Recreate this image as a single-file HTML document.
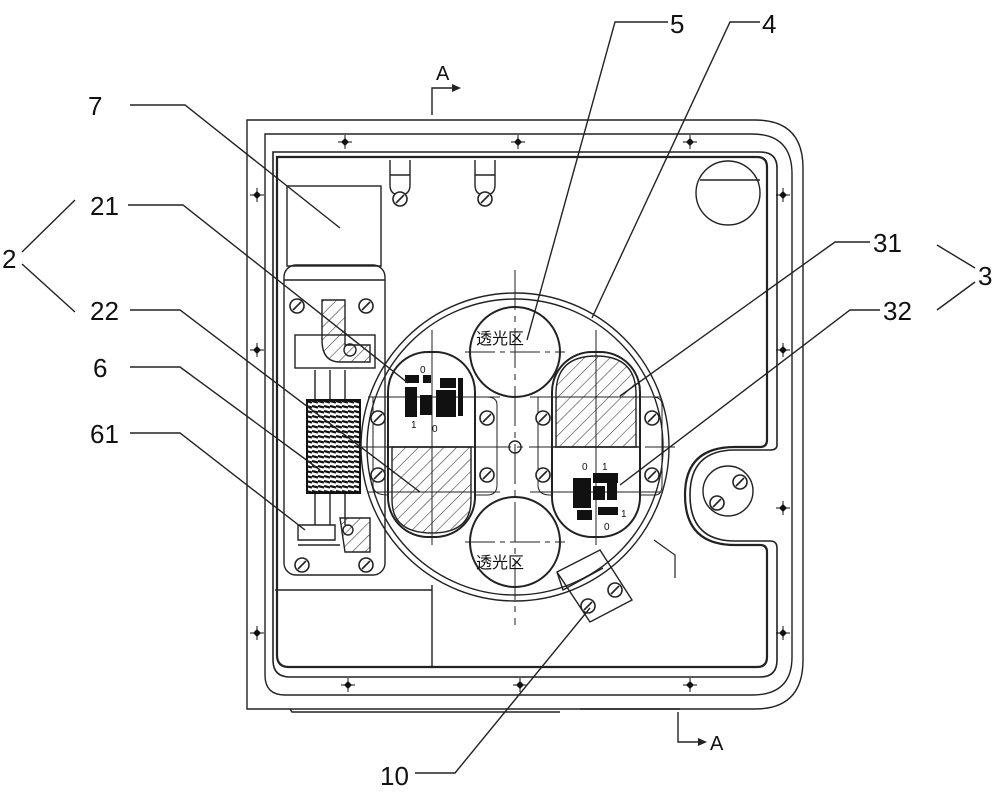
<!DOCTYPE html>
<html><head><meta charset="utf-8"><style>html,body{margin:0;padding:0;background:#fff}svg{display:block}</style></head>
<body>
<svg width="1000" height="801" viewBox="0 0 1000 801" xmlns="http://www.w3.org/2000/svg" font-family="'Liberation Sans','Noto Sans CJK SC',sans-serif">
<defs>
<pattern id="h" width="9" height="9" patternUnits="userSpaceOnUse" patternTransform="rotate(45)"><line x1="0" y1="0" x2="0" y2="9" stroke="#333" stroke-width="1.1"/></pattern>
<pattern id="coil" width="6" height="5" patternUnits="userSpaceOnUse"><rect width="6" height="5" fill="#fff"/><line x1="0" y1="1" x2="6" y2="2.5" stroke="#111" stroke-width="2.2"/></pattern>
<g id="sc"><circle r="7" fill="#fff" stroke="#222" stroke-width="1.6"/><line x1="-4" y1="4" x2="4" y2="-4" stroke="#222" stroke-width="1.6"/></g>
<g id="mk"><line x1="-7" y1="0" x2="7" y2="0" stroke="#111" stroke-width="1"/><line x1="0" y1="-7" x2="0" y2="7" stroke="#111" stroke-width="1"/><path d="M-4 0 L0 -4 L4 0 L0 4Z" fill="#111"/></g>
</defs>
<g fill="none" stroke="#222" stroke-width="1.4">
<!-- housing -->
<path d="M247 120 H755 Q803 120 803 168 V660 Q803 709 755 709 H247 Z"/>
<path d="M290 709 L292 712 H560 M580 709 H680"/>
<path d="M265 134 H752 Q792 134 792 174 V657 Q792 695 752 695 H285 Q265 695 265 675 Z"/>
<path d="M273 152 H760 Q777 152 777 168 V445 Q777 450 770 450 H735 Q690 450 690 495 Q690 541 735 541 H770 Q777 541 777 548 V660 Q777 677 760 677 H290 Q273 677 273 660 Z" stroke-width="1.6"/>
<path d="M277 157 H757 Q767 157 767 167 V440 Q767 447 760 447 H735 Q685 447 685 495 Q685 545 735 545 H760 Q767 545 767 552 V657 Q767 667 757 667 H289 Q277 667 277 655 Z" stroke-width="2.2"/>
<circle cx="728" cy="193" r="32"/><line x1="700" y1="180" x2="760" y2="180"/>
<circle cx="728" cy="491" r="25"/>
<use href="#sc" x="740" y="482"/><use href="#sc" x="717" y="503"/>
<!-- partitions -->
<path d="M275 590 H432 M432 585 V667"/>
<!-- tabs top -->
<path d="M390 160 V185 Q390 195 400 195 Q410 195 410 185 V160 M390 175 H410"/><use href="#sc" x="400" y="199"/>
<path d="M475 160 V185 Q475 195 485 195 Q495 195 495 185 V160 M475 175 H495"/><use href="#sc" x="485" y="199"/>
<!-- left mechanism -->
<rect x="287" y="186" width="94" height="80"/>
<rect x="284" y="265" width="101" height="310" rx="12"/>
<line x1="284" y1="280" x2="385" y2="280"/>
<rect x="295" y="335" width="80" height="33"/>
<path d="M315 370 V400 M330 370 V400 M345 370 V400 M315 493 V525 M330 493 V525 M345 493 V525"/>
<rect x="307" y="400" width="53" height="93" fill="url(#coil)" stroke="#111" stroke-width="2"/>
<path d="M322 300 H345 V345 H370 V362 H340 Q322 362 322 340 Z" fill="url(#h)"/>
<path d="M340 518 H370 V552 H345 Z" fill="url(#h)"/>
<path d="M298 525 H335 V540 H298 Z M298 545 H340"/>
<use href="#sc" x="297" y="306"/><use href="#sc" x="366" y="306"/>
<use href="#sc" x="302" y="565"/><use href="#sc" x="366" y="565"/>
<circle cx="350" cy="350" r="6"/><circle cx="348" cy="530" r="5"/>
<!-- disc -->
<circle cx="515" cy="447" r="154"/><circle cx="515" cy="447" r="148"/>
<circle cx="515" cy="352" r="45" stroke-width="2"/>
<circle cx="515" cy="542" r="45" stroke-width="2"/>
<path d="M515 270 V625 M355 447 H675" stroke-width="1" stroke-dasharray="40 6 6 6"/>
<path d="M465 352 H565 M465 542 H565" stroke-width="1" stroke-dasharray="30 5 5 5"/>
<!-- left stadium -->
<path d="M373 405 V485 Q373 495 388 495 H487 Q497 495 497 485 V405 Q497 397 487 397 H373Z" stroke-width="1"/>
<rect x="388" y="352" width="87" height="185" rx="40" fill="#fff" stroke-width="2"/>
<path d="M392 447 H471 V500 Q471 533 432 533 Q392 533 392 500 Z" fill="url(#h)"/>
<line x1="388" y1="447" x2="475" y2="447"/>
<!-- right stadium -->
<path d="M538 405 V485 Q538 495 550 495 H655 Q662 495 662 485 V405 Q662 397 652 397 H538Z" stroke-width="1"/>
<rect x="552" y="352" width="88" height="185" rx="40" fill="#fff" stroke-width="2"/>
<path d="M556 447 H636 V394 Q636 356 596 356 Q556 356 556 394 Z" fill="url(#h)"/>
<line x1="552" y1="447" x2="640" y2="447"/>
<use href="#sc" x="378" y="418"/><use href="#sc" x="487" y="418"/><use href="#sc" x="378" y="475"/><use href="#sc" x="487" y="475"/>
<use href="#sc" x="543" y="418"/><use href="#sc" x="652" y="418"/><use href="#sc" x="543" y="475"/><use href="#sc" x="652" y="475"/>
<circle cx="515" cy="447" r="6"/>
<path d="M432 330 V545 M368 397 H500 M368 492 H500 M596 330 V545 M530 397 H660 M530 492 H660" stroke-width="1"/>
<!-- code patterns -->
<g fill="#111" stroke="none">
<rect x="405" y="375" width="14" height="8"/><rect x="423" y="375" width="8" height="8"/><rect x="440" y="378" width="16" height="10"/>
<rect x="405" y="387" width="12" height="30"/><rect x="420" y="395" width="12" height="20"/><rect x="436" y="390" width="20" height="27"/><rect x="458" y="378" width="5" height="38"/>
<rect x="593" y="473" width="25" height="10"/><rect x="573" y="478" width="18" height="30"/><rect x="593" y="486" width="12" height="14"/><rect x="607" y="482" width="10" height="18"/><rect x="577" y="510" width="15" height="10"/><rect x="598" y="507" width="20" height="8"/>
</g>
<!-- small part 10 -->
<path d="M557 572 L600 550 L632 600 L590 622 Z M557 572 L563 590 L603 568"/>
<use href="#sc" x="588" y="606"/><use href="#sc" x="615" y="590"/>
<path d="M654 540 L675 555 V578" stroke-width="1.2"/>
<!-- markers -->
</g>
<g>
<use href="#mk" x="345" y="142"/><use href="#mk" x="518" y="142"/><use href="#mk" x="690" y="142"/>
<use href="#mk" x="783" y="195"/><use href="#mk" x="783" y="350"/><use href="#mk" x="783" y="508"/><use href="#mk" x="783" y="633"/>
<use href="#mk" x="257" y="195"/><use href="#mk" x="257" y="350"/><use href="#mk" x="257" y="633"/>
<use href="#mk" x="348" y="685"/><use href="#mk" x="520" y="685"/><use href="#mk" x="690" y="685"/>
</g>
<!-- leaders -->
<g fill="none" stroke="#222" stroke-width="1.4">
<path d="M668 22 H615 L527 340"/>
<path d="M760 22 H730 L592 318"/>
<path d="M130 105 H185 L340 228"/>
<path d="M128 205 H183 L408 383"/>
<path d="M130 310 H180 L420 492"/>
<path d="M130 367 H180 L320 470"/>
<path d="M130 433 H180 L305 530"/>
<path d="M870 242 H835 L620 396"/>
<path d="M880 310 H850 L620 485"/>
<path d="M415 773 H455 L590 608"/>
<path d="M22 252 L75 200 M22 264 L75 312"/>
<path d="M975 268 L937 245 M975 282 L937 310"/>
<path d="M432 115 V88 H452"/><path d="M678 712 V742 H698"/>
</g>
<path d="M452 84 L461 88 L452 92Z M698 738 L707 742 L698 746Z" fill="#222"/>
<g fill="#111" font-size="26">
<text x="670" y="33">5</text><text x="762" y="33">4</text>
<text x="88" y="115">7</text><text x="90" y="215">21</text>
<text x="2" y="268">2</text><text x="90" y="320">22</text>
<text x="93" y="377">6</text><text x="90" y="443">61</text>
<text x="873" y="252">31</text><text x="883" y="320">32</text>
<text x="978" y="285">3</text><text x="380" y="785">10</text>
<text x="436" y="80" font-size="20">A</text><text x="710" y="750" font-size="20">A</text>
</g>
<g fill="#111" font-size="16" text-anchor="middle">
<text x="500" y="344">透光区</text><text x="500" y="568">透光区</text>
</g>
<g fill="#111" font-size="10">
<text x="420" y="373">0</text><text x="432" y="432">0</text><text x="411" y="428">1</text>
<text x="582" y="470">0</text><text x="602" y="470">1</text><text x="604" y="530">0</text><text x="621" y="517">1</text>
</g>
</svg>
</body></html>
